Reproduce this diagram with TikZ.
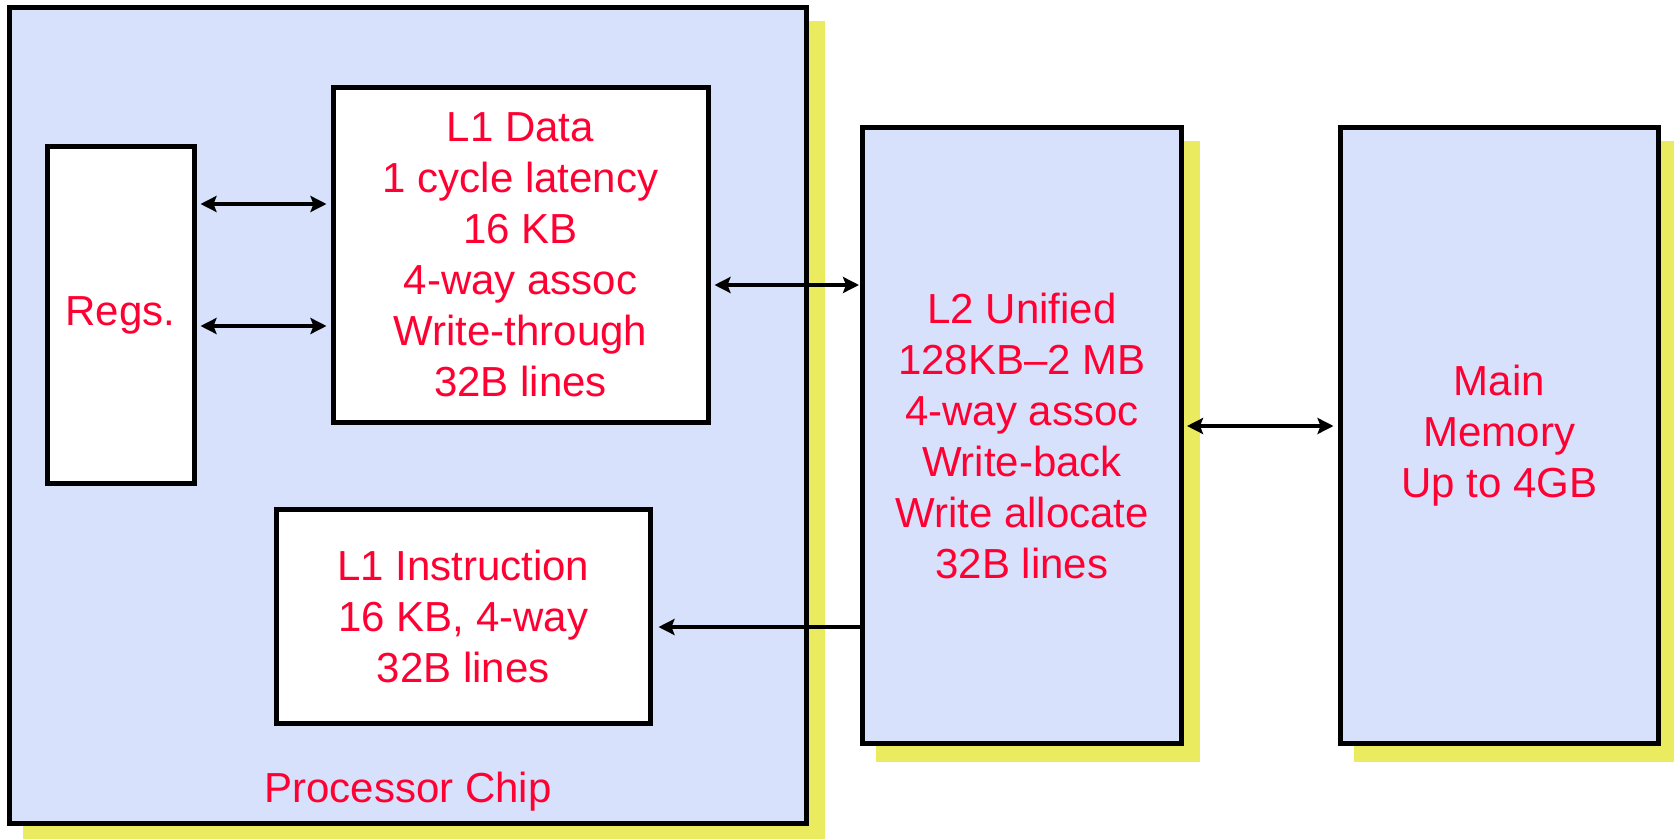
\documentclass[tikz,border=0pt]{standalone}
\usepackage{fontspec}
\setmainfont{Liberation Sans}
\usepackage{tikz}
\usetikzlibrary{arrows.meta, backgrounds}

\definecolor{chipblue}{RGB}{216,225,251}
\definecolor{shadeyellow}{RGB}{234,235,94}
\definecolor{labelred}{RGB}{255,0,51}

\begin{document}
\begin{tikzpicture}[x=0.5pt, y=-0.5pt,
    >={Stealth[length=8pt, width=8pt, inset=1.5pt]},
    box/.style={draw, line width=2.5pt, inner sep=0pt, align=center, text=labelred,
                font=\fontsize{21pt}{25.5pt}\selectfont},
    arr/.style={line width=2pt}]
    \useasboundingbox (0,0) rectangle (1674,839);
    \node[box, fill=chipblue, minimum width=398.5pt, minimum height=408pt] (chip) at (408,415.5) {};
    \node[box, fill=white, minimum width=73.5pt, minimum height=168pt] (regs) at (120.5,315) {Regs.};
    \node[box, fill=white, minimum width=187.5pt, minimum height=167.25pt] (l1d) at (520.5,254.75)
        {L1 Data\\1 cycle latency\\16 KB\\4-way assoc\\Write-through\\32B lines};
    \node[box, fill=white, minimum width=186.75pt, minimum height=107pt] (l1i) at (463.25,616)
        {L1 Instruction\\16 KB, 4-way\\32B lines};
    \node[box, fill=chipblue, minimum width=159.5pt, minimum height=308pt] (l2) at (1022,435.5)
        {L2 Unified\\128KB--2 MB\\4-way assoc\\Write-back\\Write allocate\\32B lines};
    \node[box, fill=chipblue, minimum width=159.25pt, minimum height=308pt] (mem) at (1499.25,435.5)
        {Main\\Memory\\Up to 4GB};
    \node[box, draw=none] (chiplabel) at (408,792) {Processor Chip};
    % yellow shadows
    \begin{scope}[on background layer]
      \foreach \n in {chip, l2, mem}
        \fill[shadeyellow] ([shift={(16,16)}]\n.north west) rectangle ([shift={(16,16)}]\n.south east);
    \end{scope}
    \draw[arr, <->, shorten <=2pt, shorten >=2pt] (regs.east |- 0,204) -- (l1d.west |- 0,204);
    \draw[arr, <->, shorten <=2pt, shorten >=2pt] (regs.east |- 0,326) -- (l1d.west |- 0,326);
    \draw[arr, <->, shorten <=2pt, shorten >=0.5pt] (l1d.east |- 0,285) -- (l2.west |- 0,285);
    \draw[arr, ->, shorten >=3pt] (l2.west |- 0,627) -- (l1i.east |- 0,627);
    \draw[arr, <->, shorten <=1.5pt, shorten >=2pt] (l2.east |- 0,426) -- (mem.west |- 0,426);
\end{tikzpicture}
\end{document}
